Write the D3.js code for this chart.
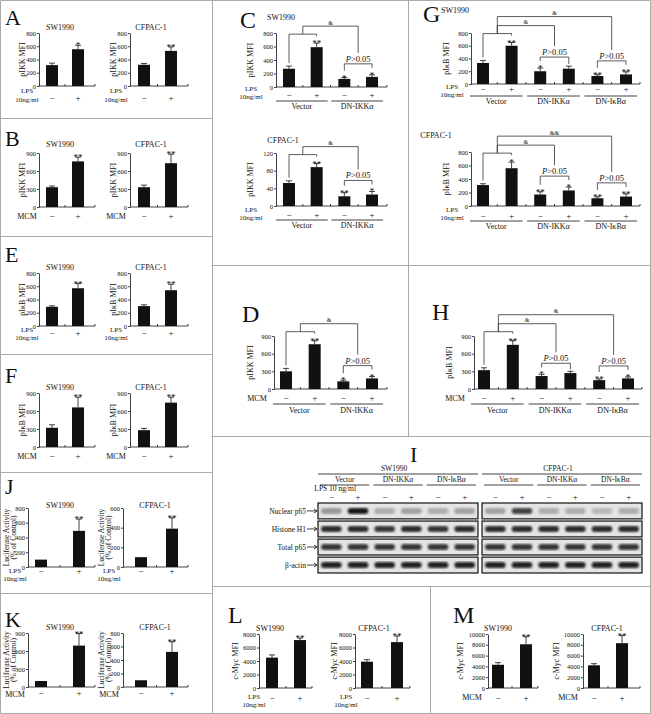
<!DOCTYPE html>
<html lang="en">
<head>
<meta charset="UTF-8">
<title>Figure</title>
<script src="https://cdnjs.cloudflare.com/ajax/libs/d3/7.8.5/d3.min.js"></script>
<style>
    body { margin: 0; background: #fff; }
    svg { display: block; font-family: "Liberation Serif", "Times New Roman", serif; }
    text { fill: #111; }
</style>
</head>
<body>
<svg id="fig" width="651" height="714"></svg>
<script>
    // ---- data ----
    var signs2 = ['\u2212', '+'];
    var signs4 = ['\u2212', '+', '\u2212', '+'];
    var signs6 = ['\u2212', '+', '\u2212', '+', '\u2212', '+'];
    var groups2 = ['Vector', 'DN-IKK\u03b1'];
    var groups3 = ['Vector', 'DN-IKK\u03b1', 'DN-I\u03baB\u03b1'];

    // A  pIKK, LPS  (SW1990, CFPAC-1)
    var aValues = [[315, 555], [320, 530]];
    var aErrors = [[30, 60], [20, 60]];
    var aStars = [['', '*'], ['', '**']];
    var aTicks = [0, 200, 400, 600, 800];
    // B  pIKK, MCM
    var bValues = [[330, 760], [330, 730]];
    var bErrors = [[20, 70], [35, 150]];
    var bStars = [['', '**'], ['', '**']];
    var bTicks = [0, 300, 600, 900];
    // E  pIkB, LPS
    var eValues = [[290, 570], [300, 540]];
    var eErrors = [[15, 70], [20, 90]];
    var eStars = [['', '**'], ['', '**']];
    var eTicks = [0, 200, 400, 600, 800];
    // F  pIkB, MCM
    var fValues = [[320, 660], [280, 740]];
    var fErrors = [[50, 170], [30, 90]];
    var fStars = [['', '**'], ['', '**']];
    var fTicks = [0, 300, 600, 900];
    // J  luciferase, LPS
    var jValues = [[100, 490], [100, 390]];
    var jErrors = [[0, 160], [0, 110]];
    var jStars = [['', '**'], ['', '**']];
    var jTicks = [[0, 200, 400, 600, 800], [0, 200, 400, 600]];
    // K  luciferase, MCM
    var kValues = [[100, 690], [100, 520]];
    var kErrors = [[0, 200], [0, 150]];
    var kStars = [['', '**'], ['', '**']];
    var kTicks = [[0, 300, 600, 900], [0, 200, 400, 600, 800]];
    // C  pIKK, LPS, Vector / DN-IKKa
    var cValues = [[270, 590, 120, 150], [52, 88, 22, 26]];
    var cErrors = [[40, 60, 20, 30], [5, 8, 8, 7]];
    var cStars = [['', '**', '*', '*'], ['', '**', '**', '*']];
    var cAmp = [['&'], ['&']];
    var cTicks = [[0, 200, 400, 600, 800], [0, 40, 80, 120]];
    // D  pIKK, MCM
    var dValues = [300, 760, 130, 180];
    var dErrors = [50, 60, 20, 30];
    var dStars = ['', '**', '*', '*'];
    var dAmp = ['&'];
    var dTicks = [0, 300, 600, 900];
    // G  pIkB, LPS, three groups
    var gValues = [[330, 600, 200, 240, 125, 150], [310, 560, 170, 230, 115, 140]];
    var gErrors = [[40, 50, 50, 40, 20, 40], [20, 90, 40, 50, 20, 40]];
    var gStars = [['', '**', '*', '', '**', '**'], ['', '*', '**', '*', '**', '**']];
    var gAmp = [['&', '&'], ['&', '&&']];
    var gTicks = [0, 200, 400, 600, 800];
    // H  pIkB, MCM
    var hValues = [320, 750, 220, 270, 150, 180];
    var hErrors = [40, 70, 30, 30, 20, 25];
    var hStars = ['', '**', '*', '', '**', '*'];
    var hAmp = ['&', '&'];
    var hTicks = [0, 300, 600, 900];
    // L  c-Myc, LPS
    var lValues = [[4500, 7100], [3900, 6800]];
    var lErrors = [[400, 300], [300, 900]];
    var lStars = [['', '**'], ['', '**']];
    var lTicks = [0, 2000, 4000, 6000, 8000];
    // M  c-Myc, MCM
    var mValues = [[4300, 8100], [4200, 8300]];
    var mErrors = [[400, 1400], [300, 1400]];
    var mStars = [['', '**'], ['', '**']];
    var mTicks = [0, 2000, 4000, 6000, 8000, 10000];
    // I  western blot band intensities (0-1), lanes - + - + - +
    var blotRows = ['Nuclear p65', 'Histone H1', 'Total p65', '\u03b2-actin'];
    var blotSW = [[0.35, 0.95, 0.25, 0.3, 0.25, 0.3],
                  [0.85, 0.85, 0.8, 0.85, 0.8, 0.85],
                  [0.8, 0.8, 0.8, 0.8, 0.8, 0.8],
                  [0.9, 0.9, 0.9, 0.9, 0.9, 0.9]];
    var blotCF = [[0.3, 0.75, 0.25, 0.25, 0.2, 0.25],
                  [0.85, 0.85, 0.85, 0.85, 0.85, 0.85],
                  [0.8, 0.8, 0.8, 0.8, 0.8, 0.8],
                  [0.9, 0.9, 0.9, 0.9, 0.9, 0.9]];

    // ---- drawing ----
    var svg = d3.select('#fig');
    var ink = '#111';
    var frame = '#aaa';

    function letter(x, y, t, size) {
        svg.append('text').attr('x', x).attr('y', y)
            .style('font-size', (size || 22) + 'px').text(t);
    }

    function barChart(o) {
        var g = svg.append('g');
        var n = o.values.length;
        var bw = 12;
        var x = d3.scalePoint().domain(d3.range(n)).range([o.xFirst, o.xLast]);
        var y = d3.scaleLinear().domain([0, d3.max(o.ticks)]).range([o.yBase, o.yTop]);

        var ax = g.append('g')
            .attr('transform', 'translate(' + o.axisX + ',0)')
            .call(d3.axisLeft(y).tickValues(o.ticks).tickSize(2).tickSizeOuter(0)
                .tickPadding(1).tickFormat(d3.format('d')));
        ax.attr('font-family', null).attr('font-size', null);
        ax.select('.domain').attr('stroke', ink).attr('stroke-width', 0.8);
        ax.selectAll('.tick line').attr('stroke', ink).attr('stroke-width', 0.8);
        ax.selectAll('.tick text').attr('fill', ink).style('font-size', '6.5px');

        g.append('line')
            .attr('x1', o.axisX).attr('x2', o.xEnd)
            .attr('y1', y(0)).attr('y2', y(0))
            .attr('stroke', ink).attr('stroke-width', 0.8);
        var mids = d3.range(n - 1).map(function (i) { return (x(i) + x(i + 1)) / 2; }).concat([o.xEnd]);
        g.selectAll('line.xt').data(mids).join('line')
            .attr('x1', function (d) { return d; }).attr('x2', function (d) { return d; })
            .attr('y1', y(0)).attr('y2', y(0) - 2)
            .attr('stroke', ink).attr('stroke-width', 0.8);

        g.selectAll('rect.bar').data(o.values).join('rect')
            .attr('x', function (d, i) { return x(i) - bw / 2; })
            .attr('y', function (d) { return y(d); })
            .attr('width', bw)
            .attr('height', function (d) { return y(0) - y(d); })
            .attr('fill', ink);

        var errs = o.values.map(function (v, i) { return {i: i, v: v, e: o.errors[i]}; })
            .filter(function (d) { return d.e > 0; });
        g.selectAll('path.err').data(errs).join('path')
            .attr('d', function (d) {
                var xi = x(d.i), yt = y(d.v + d.e);
                return 'M' + xi + ',' + y(d.v) + 'V' + yt + 'M' + (xi - 3) + ',' + yt + 'H' + (xi + 3);
            })
            .attr('stroke', ink).attr('stroke-width', 0.8).attr('fill', 'none');

        g.selectAll('text.star').data(o.stars).join('text')
            .attr('x', function (d, i) { return x(i); })
            .attr('y', function (d, i) { return y(o.values[i] + o.errors[i]) + 3; })
            .attr('text-anchor', 'middle')
            .style('font-size', '9px')
            .text(function (d) { return d; });

        if (o.title) {
            g.append('text').attr('x', o.titleX).attr('y', o.titleY)
                .attr('text-anchor', 'middle').style('font-size', '8px').text(o.title);
        }

        var ym = (o.yTop + o.yBase) / 2;
        var ylab = [].concat(o.ylabel);
        ylab.forEach(function (t, k) {
            g.append('text')
                .attr('transform', 'translate(' + [].concat(o.ylabX)[k] + ',' + ym + ') rotate(-90)')
                .attr('text-anchor', 'middle').attr('dy', '0.35em')
                .style('font-size', ylab.length > 1 ? '7.5px' : '8px').text(t);
        });

        g.selectAll('text.sign').data(o.signs).join('text')
            .attr('x', function (d, i) { return x(i); })
            .attr('y', o.signY)
            .attr('text-anchor', 'middle').style('font-size', '9px')
            .text(function (d) { return d; });

        o.treat.forEach(function (t, k) {
            g.append('text').attr('x', o.treatX).attr('y', o.treatY[k])
                .attr('text-anchor', 'middle')
                .style('font-size', o.treat.length > 1 ? '7px' : '8px').text(t);
        });

        if (o.groups) {
            o.groups.forEach(function (t, k) {
                var xa = x(2 * k) - 13, xb = x(2 * k + 1) + 11;
                g.append('line').attr('x1', xa).attr('x2', xb)
                    .attr('y1', o.groupLineY).attr('y2', o.groupLineY)
                    .attr('stroke', ink).attr('stroke-width', 0.8);
                g.append('text').attr('x', (xa + xb) / 2).attr('y', o.groupY)
                    .attr('text-anchor', 'middle').style('font-size', '8px').text(t);
            });
        }

        return {
            g: g, x: x, y: y,
            top: function (i) {
                return y(o.values[i] + o.errors[i]) - (o.stars[i] ? 5 : 0);
            }
        };
    }

    // significance brackets over grouped bars
    function brackets(c, amps) {
        var line = function (d) {
            c.g.append('path').attr('d', d).attr('fill', 'none')
                .attr('stroke', '#333').attr('stroke-width', 0.8);
        };
        var pairY = c.top(1) - 4;
        line('M' + c.x(0) + ',' + (c.top(0) - 3) + 'V' + pairY + 'H' + c.x(1) + 'V' + (c.top(1) - 2));
        var xm = (c.x(0) + c.x(1)) / 2;
        amps.forEach(function (a, k) {
            var i = 2 * (k + 1), j = i + 1;
            var pY = Math.min(c.top(i), c.top(j)) - 6;
            line('M' + c.x(i) + ',' + (c.top(i) - 2) + 'V' + pY + 'H' + c.x(j) + 'V' + (c.top(j) - 2));
            var pt = c.g.append('text').attr('x', (c.x(i) + c.x(j)) / 2).attr('y', pY - 2)
                .attr('text-anchor', 'middle').style('font-size', '8.5px');
            pt.append('tspan').style('font-style', 'italic').text('P');
            pt.append('tspan').text('>0.05');
            var aY = pairY - 8 - 9 * k;
            var xc = (c.x(i) + c.x(j)) / 2;
            line('M' + xm + ',' + pairY + 'V' + aY + 'H' + xc + 'V' + (pY - 11));
            c.g.append('text').attr('x', (xm + xc) / 2).attr('y', aY - 1.5)
                .attr('text-anchor', 'middle').style('font-size', '6px').text(a);
        });
    }

    // ---- frame ----
    var frameLines = [
        [0.5, 0.5, 650.5, 0.5], [0.5, 713.5, 650.5, 713.5], [0.5, 0.5, 0.5, 713.5], [650.5, 0.5, 650.5, 713.5],
        [212.5, 0, 212.5, 714], [408.5, 0, 408.5, 436], [430.5, 586, 430.5, 714],
        [0, 118.5, 212, 118.5], [0, 236.5, 212, 236.5], [0, 354.5, 212, 354.5],
        [0, 472.5, 212, 472.5], [0, 593.5, 212, 593.5],
        [212, 265.5, 651, 265.5], [212, 436.5, 651, 436.5], [212, 586.5, 651, 586.5]
    ];
    svg.selectAll('line.frame').data(frameLines).join('line')
        .attr('x1', function (d) { return d[0]; }).attr('y1', function (d) { return d[1]; })
        .attr('x2', function (d) { return d[2]; }).attr('y2', function (d) { return d[3]; })
        .attr('stroke', frame).attr('stroke-width', 1);

    // ---- left column ----
    var cells = ['SW1990', 'CFPAC-1'];
    var colSW = {axisX: 39, xFirst: 52, xLast: 78, xEnd: 95, titleX: 60, ylabX: 22, treatX: 27};
    var colCF = {axisX: 130, xFirst: 144, xLast: 171, xEnd: 188, titleX: 151, ylabX: 113, treatX: 116};
    var colSWj = {axisX: 28, xFirst: 41, xLast: 79, xEnd: 95, titleX: 60, ylabX: [6, 13], treatX: 15};
    var colCFj = {axisX: 123, xFirst: 141, xLast: 172, xEnd: 188, titleX: 155, ylabX: [101, 108], treatX: 109};

    function leftPanel(name, top, rows, cols, values, errors, stars, ticks, ylabel, treat) {
        letter(5, top + rows.letterY, name);
        cols.forEach(function (col, c) {
            barChart({
                axisX: col.axisX, xFirst: col.xFirst, xLast: col.xLast, xEnd: col.xEnd,
                yTop: top + rows.yTop, yBase: top + rows.yBase,
                ticks: Array.isArray(ticks[0]) ? ticks[c] : ticks,
                values: values[c], errors: errors[c], stars: stars[c],
                title: cells[c], titleX: col.titleX, titleY: top + rows.titleY,
                ylabel: ylabel, ylabX: col.ylabX,
                signs: signs2, signY: top + rows.signY,
                treat: treat, treatX: col.treatX,
                treatY: rows.treatY.map(function (v) { return top + v; })
            });
        });
    }

    var lps = ['LPS', '10ng/ml'];
    var mcm = ['MCM'];
    var luc = ['Luciferase Activity', '(% of Control)'];
    leftPanel('A', 0, {letterY: 25, titleY: 30, yTop: 33, yBase: 86, signY: 101, treatY: [93, 102]},
        [colSW, colCF], aValues, aErrors, aStars, aTicks, 'pIKK MFI', lps);
    leftPanel('B', 118, {letterY: 28, titleY: 29, yTop: 35, yBase: 89, signY: 101, treatY: [101]},
        [colSW, colCF], bValues, bErrors, bStars, bTicks, 'pIKK MFI', mcm);
    leftPanel('E', 236, {letterY: 26, titleY: 34, yTop: 37, yBase: 90, signY: 100, treatY: [96, 104]},
        [colSW, colCF], eValues, eErrors, eStars, eTicks, 'pI\u03baB MFI', lps);
    leftPanel('F', 354, {letterY: 29, titleY: 36, yTop: 39, yBase: 93, signY: 105, treatY: [105]},
        [colSW, colCF], fValues, fErrors, fStars, fTicks, 'pI\u03baB MFI', mcm);
    leftPanel('J', 472, {letterY: 22, titleY: 36, yTop: 36, yBase: 95, signY: 102, treatY: [101, 109]},
        [colSWj, colCFj], jValues, jErrors, jStars, jTicks, luc, lps);
    leftPanel('K', 593, {letterY: 34, titleY: 37, yTop: 40, yBase: 94, signY: 103, treatY: [104]},
        [colSWj, colCFj], kValues, kErrors, kStars, kTicks, luc, mcm);

    // ---- C ----
    letter(240, 28, 'C', 24);
    var cRows = [
        {title: 'SW1990', titleX: 281, titleY: 20, yTop: 33, yBase: 87, signY: 98, treatY: [91, 99], groupLineY: 101, groupY: 109},
        {title: 'CFPAC-1', titleX: 283, titleY: 143, yTop: 153, yBase: 206, signY: 218, treatY: [212, 220], groupLineY: 220, groupY: 228}
    ];
    cRows.forEach(function (r, k) {
        var ch = barChart({
            axisX: 276, xFirst: 289, xLast: 372, xEnd: 387, yTop: r.yTop, yBase: r.yBase,
            ticks: cTicks[k], values: cValues[k], errors: cErrors[k], stars: cStars[k],
            title: r.title, titleX: r.titleX, titleY: r.titleY,
            ylabel: 'pIKK MFI', ylabX: 250,
            signs: signs4, signY: r.signY, treat: lps, treatX: 251, treatY: r.treatY,
            groups: groups2, groupLineY: r.groupLineY, groupY: r.groupY
        });
        brackets(ch, cAmp[k]);
    });

    // ---- D ----
    letter(242, 322, 'D', 24);
    var dChart = barChart({
        axisX: 274, xFirst: 286, xLast: 372, xEnd: 387, yTop: 336, yBase: 389,
        ticks: dTicks, values: dValues, errors: dErrors, stars: dStars,
        ylabel: 'pIKK MFI', ylabX: 250,
        signs: signs4, signY: 401, treat: mcm, treatX: 257, treatY: [401],
        groups: groups2, groupLineY: 404, groupY: 413
    });
    brackets(dChart, dAmp);

    // ---- G ----
    letter(423, 22, 'G', 24);
    var gRows = [
        {title: 'SW1990', titleX: 455, titleY: 13, yTop: 33, yBase: 84, signY: 92, treatY: [89, 97], groupLineY: 96, groupY: 104},
        {title: 'CFPAC-1', titleX: 436, titleY: 138, yTop: 152, yBase: 206, signY: 219, treatY: [212, 220], groupLineY: 221, groupY: 229}
    ];
    gRows.forEach(function (r, k) {
        var ch = barChart({
            axisX: 471, xFirst: 483, xLast: 626, xEnd: 640, yTop: r.yTop, yBase: r.yBase,
            ticks: gTicks, values: gValues[k], errors: gErrors[k], stars: gStars[k],
            title: r.title, titleX: r.titleX, titleY: r.titleY,
            ylabel: 'pI\u03baB MFI', ylabX: 446,
            signs: signs6, signY: r.signY, treat: lps, treatX: 452, treatY: r.treatY,
            groups: groups3, groupLineY: r.groupLineY, groupY: r.groupY
        });
        brackets(ch, gAmp[k]);
    });

    // ---- H ----
    letter(432, 320, 'H', 24);
    var hChart = barChart({
        axisX: 474, xFirst: 484, xLast: 628, xEnd: 642, yTop: 336, yBase: 389,
        ticks: hTicks, values: hValues, errors: hErrors, stars: hStars,
        ylabel: 'pI\u03baB MFI', ylabX: 449,
        signs: signs6, signY: 401, treat: mcm, treatX: 455, treatY: [401],
        groups: groups3, groupLineY: 404, groupY: 413
    });
    brackets(hChart, hAmp);

    // ---- L & M ----
    letter(228, 623, 'L', 24);
    letter(453, 623, 'M', 24);
    var lmCols = [
        {values: lValues, errors: lErrors, stars: lStars, ticks: lTicks, treat: lps, treatY: [699, 707],
         cols: [{axisX: 259, xFirst: 272, xLast: 300, xEnd: 312, titleX: 270, ylabX: 235, treatX: 254},
                {axisX: 355, xFirst: 367, xLast: 397, xEnd: 410, titleX: 374, ylabX: 334, treatX: 346}]},
        {values: mValues, errors: mErrors, stars: mStars, ticks: mTicks, treat: mcm, treatY: [700],
         cols: [{axisX: 488, xFirst: 498, xLast: 526, xEnd: 538, titleX: 498, ylabX: 460, treatX: 472},
                {axisX: 583, xFirst: 594, xLast: 622, xEnd: 640, titleX: 607, ylabX: 556, treatX: 568}]}
    ];
    lmCols.forEach(function (p) {
        p.cols.forEach(function (col, c) {
            barChart({
                axisX: col.axisX, xFirst: col.xFirst, xLast: col.xLast, xEnd: col.xEnd,
                yTop: 634, yBase: 688, ticks: p.ticks,
                values: p.values[c], errors: p.errors[c], stars: p.stars[c],
                title: cells[c], titleX: col.titleX, titleY: 631,
                ylabel: 'c-Myc MFI', ylabX: col.ylabX,
                signs: signs2, signY: 701, treat: p.treat, treatX: col.treatX, treatY: p.treatY
            });
        });
    });

    // ---- I : western blot ----
    letter(410, 462, 'I', 22);
    var blotDefs = [
        {cell: 'SW1990', data: blotSW, x0: 318, x1: 478},
        {cell: 'CFPAC-1', data: blotCF, x0: 482, x1: 642}
    ];
    var rowY = d3.scaleBand().domain(d3.range(blotRows.length)).range([503, 573]).paddingInner(0.12);
    var gi = svg.append('g');
    var defs = svg.append('defs');
    defs.append('filter').attr('id', 'blur').append('feGaussianBlur').attr('stdDeviation', 1.1);

    blotDefs.forEach(function (b) {
        var lane = d3.scaleBand().domain(d3.range(6)).range([b.x0, b.x1]);
        gi.append('text').attr('x', (b.x0 + b.x1) / 2 - 4).attr('y', 471)
            .attr('text-anchor', 'middle').style('font-size', '7.5px').text(b.cell);
        gi.append('line').attr('x1', b.x0).attr('x2', b.x1).attr('y1', 474).attr('y2', 474)
            .attr('stroke', ink).attr('stroke-width', 0.8);
        groups3.forEach(function (t, k) {
            var xa = lane(2 * k) + 2, xb = lane(2 * k + 1) + lane.bandwidth() - 2;
            gi.append('text').attr('x', (xa + xb) / 2).attr('y', 482)
                .attr('text-anchor', 'middle').style('font-size', '7.5px').text(t);
            gi.append('line').attr('x1', xa).attr('x2', xb).attr('y1', 485).attr('y2', 485)
                .attr('stroke', ink).attr('stroke-width', 0.8);
        });
        gi.selectAll(null).data(signs6).join('text')
            .attr('x', function (d, i) { return lane(i) + lane.bandwidth() / 2; })
            .attr('y', 500).attr('text-anchor', 'middle').style('font-size', '9px')
            .text(function (d) { return d; });
        blotRows.forEach(function (r, ri) {
            gi.append('rect').attr('x', b.x0).attr('y', rowY(ri))
                .attr('width', b.x1 - b.x0).attr('height', rowY.bandwidth())
                .attr('fill', '#e4e4e4').attr('stroke', ink).attr('stroke-width', 1.2);
            gi.selectAll(null).data(b.data[ri]).join('rect')
                .attr('x', function (d, i) { return lane(i) + 3; })
                .attr('y', rowY(ri) + rowY.bandwidth() / 2 - 3)
                .attr('width', lane.bandwidth() - 6).attr('height', 6)
                .attr('rx', 3)
                .attr('fill', '#111')
                .attr('opacity', function (d) { return d; })
                .attr('filter', 'url(#blur)');
        });
    });
    gi.append('text').attr('x', 356).attr('y', 491).attr('text-anchor', 'end')
        .style('font-size', '7.5px').text('LPS 10 ng/ml');
    blotRows.forEach(function (r, ri) {
        var yc = rowY(ri) + rowY.bandwidth() / 2;
        gi.append('text').attr('x', 306).attr('y', yc).attr('dy', '0.35em')
            .attr('text-anchor', 'end').style('font-size', '7.5px').text(r);
        gi.append('path').attr('d', 'M307,' + yc + 'H317M314,' + (yc - 2) + 'L317,' + yc + 'L314,' + (yc + 2))
            .attr('stroke', ink).attr('stroke-width', 0.8).attr('fill', 'none');
    });
</script>
</body>
</html>
